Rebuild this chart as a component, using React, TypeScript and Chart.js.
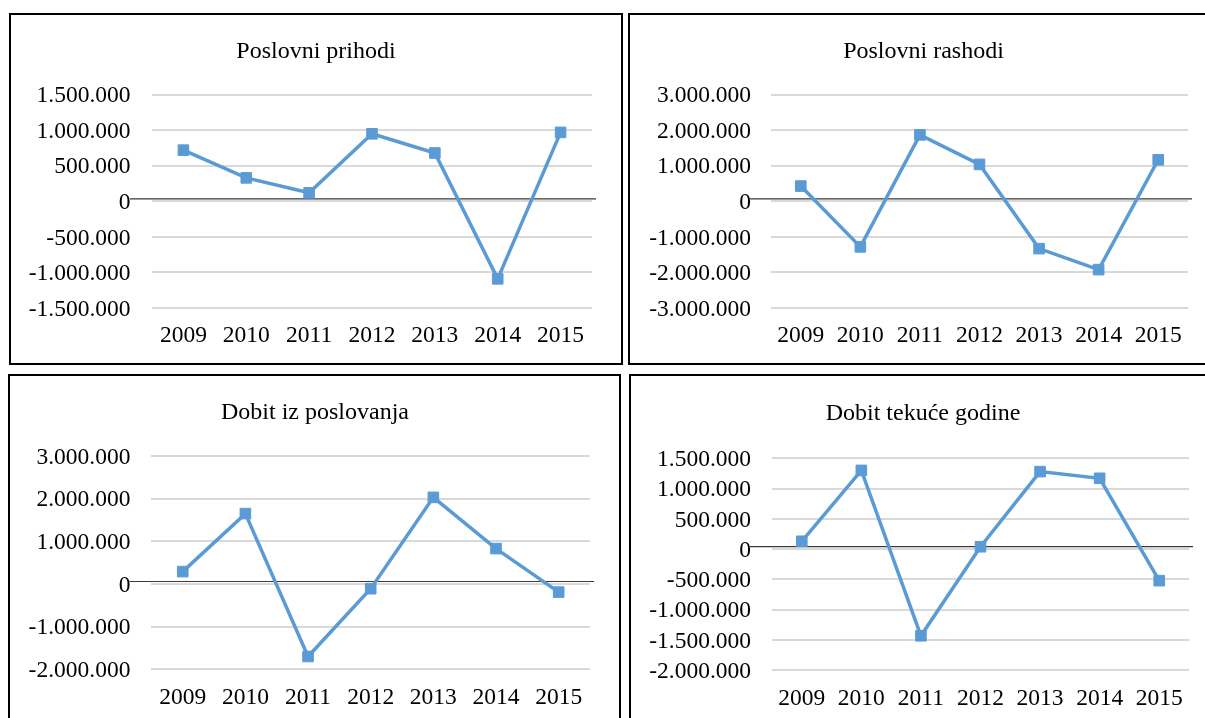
import React, { useEffect, useRef } from "react";
import { Chart, registerables } from "chart.js";

Chart.register(...registerables);

// ---- data ----
const years = ["2009", "2010", "2011", "2012", "2013", "2014", "2015"];
const poslovniPrihodi = [720000, 330000, 120000, 950000, 680000, -1090000, 970000];
const poslovniRashodi = [430000, -1280000, 1870000, 1040000, -1330000, -1920000, 1170000];
const dobitIzPoslovanja = [290000, 1650000, -1700000, -110000, 2030000, 830000, -190000];
const dobitTekuceGodine = [130000, 1300000, -1430000, 40000, 1280000, 1170000, -520000];

const chartTitles = ["Poslovni prihodi", "Poslovni rashodi", "Dobit iz poslovanja", "Dobit tekuće godine"];
const yMins = [-1500000, -3000000, -2000000, -2000000];
const yMaxs = [1500000, 3000000, 3000000, 1500000];
const ySteps = [500000, 1000000, 1000000, 500000];
const seriesList = [poslovniPrihodi, poslovniRashodi, dobitIzPoslovanja, dobitTekuceGodine];

// ---- layout (page coordinates) ----
const boxes = [
  { left: 9, top: 13, width: 614, height: 352 },
  { left: 628, top: 13, width: 620, height: 352 },
  { left: 8, top: 374, width: 613, height: 400 },
  { left: 629, top: 374, width: 620, height: 400 },
];
const canvases = [
  { left: 11, top: 15, w: 610, h: 348, yW: 141, padR: 29, padT: 79.7, titleBase: 43.3, xH: 55, xPad: 13.7, yPad: 21.5 },
  { left: 630, top: 15, w: 587, h: 348, yW: 141, padR: 29, padT: 79.7, titleBase: 43.3, xH: 55, xPad: 13.7, yPad: 20 },
  { left: 11, top: 376, w: 608, h: 342, yW: 140.4, padR: 29, padT: 80, titleBase: 43.3, xH: 48.7, xPad: 14.5, yPad: 21 },
  { left: 631, top: 376, w: 584, h: 342, yW: 141, padR: 26, padT: 82.3, titleBase: 44, xH: 47.7, xPad: 14.5, yPad: 21 },
];

const FONT = "'Liberation Serif', 'Times New Roman', serif";
const LINE_COLOR = "#5B9BD5";

const fmt = (v: number) => {
  const s = Math.abs(Math.round(v)).toString().replace(/\B(?=(\d{3})+(?!\d))/g, ".");
  return (v < 0 ? "-" : "") + s;
};

const zeroLine = {
  id: "zeroLine",
  beforeDatasetsDraw(chart: any) {
    const y = chart.scales.y.getPixelForValue(0) - 2.5;
    const { left, right } = chart.chartArea;
    const ctx = chart.ctx;
    ctx.save();
    ctx.strokeStyle = "#3a3a3a";
    ctx.lineWidth = 1.2;
    ctx.beginPath();
    ctx.moveTo(left - 22, y);
    ctx.lineTo(right + 4, y);
    ctx.stroke();
    ctx.restore();
  },
};

const centeredTitle = {
  id: "centeredTitle",
  afterDraw(chart: any, _args: any, opts: any) {
    const ctx = chart.ctx;
    ctx.save();
    ctx.fillStyle = "#000";
    ctx.font = `normal 24px ${FONT}`;
    ctx.textAlign = "center";
    ctx.textBaseline = "alphabetic";
    ctx.fillText(opts.text, chart.width / 2, opts.baseline);
    ctx.restore();
  },
};

function Panel({ idx }: { idx: number }) {
  const ref = useRef<HTMLCanvasElement | null>(null);
  const c = canvases[idx];
  useEffect(() => {
    if (!ref.current) return;
    const chart = new Chart(ref.current, {
      type: "line",
      data: {
        labels: years,
        datasets: [
          {
            data: seriesList[idx],
            borderColor: LINE_COLOR,
            backgroundColor: LINE_COLOR,
            borderWidth: 3.5,
            pointStyle: "rect",
            pointRadius: 7.5,
            pointBorderWidth: 1,
            pointBackgroundColor: LINE_COLOR,
            pointBorderColor: LINE_COLOR,
            tension: 0,
            clip: false as any,
          },
        ],
      },
      options: {
        responsive: false,
        animation: false,
        devicePixelRatio: 1,
        layout: { padding: { left: 0, right: c.padR, top: c.padT, bottom: 0 } },
        plugins: {
          legend: { display: false },
          tooltip: { enabled: false },
          title: { display: false },
          centeredTitle: { text: chartTitles[idx], baseline: c.titleBase },
        } as any,
        scales: {
          x: {
            type: "category",
            offset: true,
            grid: { display: false, drawTicks: false },
            border: { display: false },
            ticks: {
              color: "#000",
              font: { family: FONT, size: 23.5 },
              padding: c.xPad,
              maxRotation: 0,
              autoSkip: false,
            },
            afterFit: (s: any) => {
              s.height = c.xH;
            },
          },
          y: {
            min: yMins[idx],
            max: yMaxs[idx],
            grid: { color: "#d9d9d9", lineWidth: 2, drawTicks: false },
            border: { display: false },
            ticks: {
              stepSize: ySteps[idx],
              autoSkip: false,
              color: "#000",
              font: { family: FONT, size: 23.5 },
              padding: c.yPad,
              labelOffset: 1.5,
              callback: (v: any) => fmt(Number(v)),
            },
            afterFit: (s: any) => {
              s.width = c.yW;
            },
          },
        },
      },
      plugins: [zeroLine, centeredTitle],
    });
    return () => chart.destroy();
  }, [idx]);
  return (
    <canvas
      ref={ref}
      width={c.w}
      height={c.h}
      style={{ position: "absolute", left: c.left, top: c.top, width: c.w, height: c.h }}
    />
  );
}

export default function App() {
  return (
    <div
      style={{
        position: "fixed",
        left: 0,
        top: 0,
        width: 1205,
        height: 718,
        overflow: "hidden",
        background: "#fff",
      }}
    >
      {boxes.map((b, i) => (
        <div
          key={"b" + i}
          style={{
            position: "absolute",
            left: b.left,
            top: b.top,
            width: b.width,
            height: b.height,
            border: "2px solid #000",
            boxSizing: "border-box",
          }}
        />
      ))}
      {[0, 1, 2, 3].map((i) => (
        <Panel key={i} idx={i} />
      ))}
    </div>
  );
}
